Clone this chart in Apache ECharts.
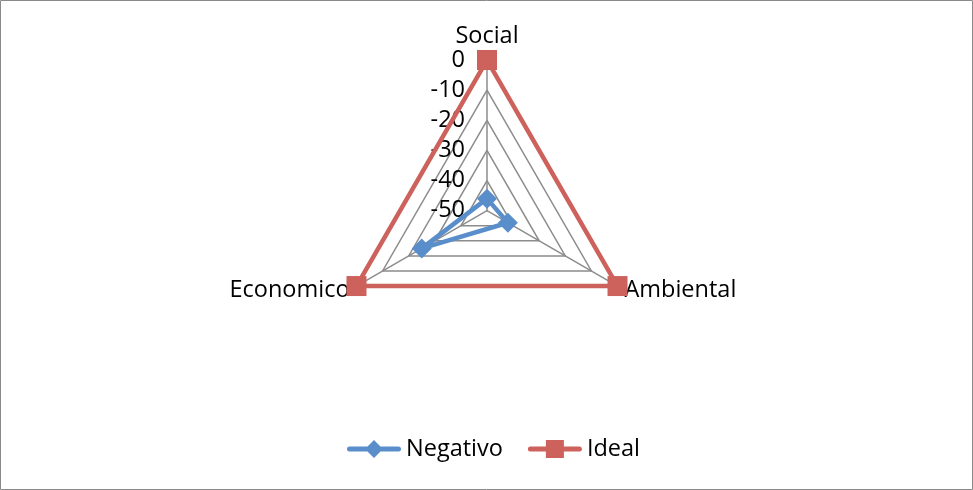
<!DOCTYPE html>
<html>
<head>
<meta charset="utf-8">
<script src="https://cdn.jsdelivr.net/npm/echarts@6/dist/echarts.min.js"></script>
<style>
html,body{margin:0;padding:0;background:#fff;}
#c{width:973px;height:490px;}
</style>
</head>
<body>
<div id="c"></div>
<script>
const categories = ['Social', 'Economico', 'Ambiental'];
const negativo = [-46, -25, -42];
const ideal = [0, 0, 0];
const seriesNames = ['Negativo', 'Ideal'];
const axisMin = -50;
const axisMax = 0;

const FONT = '"Open Sans", sans-serif';
const FS = 23.5;
const BLUE = '#5A8ECB';
const RED = '#CD615B';

const chart = echarts.init(document.getElementById('c'), null, {renderer: 'canvas'});
chart.setOption({
  animation: false,
  backgroundColor: '#fff',
  textStyle: {fontFamily: FONT},
  graphic: [{
    type: 'rect', silent: true, z: -1,
    shape: {x: 0.5, y: 0.5, width: 972, height: 489},
    style: {fill: 'none', stroke: '#8a8a8a', lineWidth: 1}
  }],
  legend: {
    data: [
      {name: seriesNames[0], icon: 'path://M2.5,6.5 H51.5 A2.5,2.5 0 0 1 51.5,11.5 H2.5 A2.5,2.5 0 0 1 2.5,6.5 Z M27,0 L36,9 L27,18 L18,9 Z', itemStyle: {color: BLUE}},
      {name: seriesNames[1], icon: 'path://M2.5,6.5 H51.5 A2.5,2.5 0 0 1 51.5,11.5 H2.5 A2.5,2.5 0 0 1 2.5,6.5 Z M18,0 H36 V18 H18 Z', itemStyle: {color: RED}}
    ],
    left: 342, top: 432,
    itemWidth: 54, itemHeight: 18, itemGap: 25,
    textStyle: {fontFamily: FONT, fontSize: FS, color: '#000'}
  },
  radar: {
    center: [487, 210.7],
    radius: 150.7,
    shape: 'polygon',
    splitNumber: 5,
    nameGap: 8,
    axisName: {color: '#000', fontFamily: FONT, fontSize: FS},
    splitArea: {show: false},
    splitLine: {lineStyle: {color: '#8c8c8c', width: 1.5}},
    axisLine: {lineStyle: {color: '#8c8c8c', width: 1.5}},
    axisTick: {show: false},
    axisLabel: {show: false},
    indicator: categories.map((n, i) => i === 0
      ? {name: n, min: axisMin, max: axisMax, axisLabel: {show: true, color: '#000', fontFamily: FONT, fontSize: FS, margin: 22, showMinLabel: true, showMaxLabel: true}}
      : {name: n, min: axisMin, max: axisMax})
  },
  series: [{
    type: 'radar',
    data: [
      {name: seriesNames[0], value: negativo,
       symbol: 'diamond', symbolSize: 20,
       lineStyle: {color: BLUE, width: 4.5},
       itemStyle: {color: BLUE}},
      {name: seriesNames[1], value: ideal,
       symbol: 'rect', symbolSize: 20,
       lineStyle: {color: RED, width: 4.5},
       itemStyle: {color: RED}}
    ]
  }]
});
</script>
</body>
</html>
